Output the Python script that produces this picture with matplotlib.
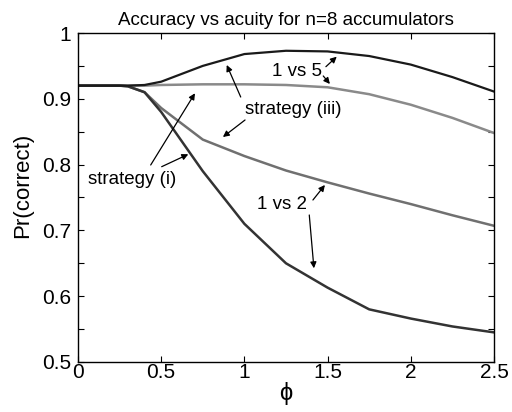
import matplotlib
matplotlib.use("Agg")
import matplotlib.pyplot as plt

plt.rcParams['font.family'] = ['Liberation Sans', 'DejaVu Sans']

phi = [0.0, 0.25, 0.3, 0.4, 0.5, 0.75, 1.0, 1.25, 1.5, 1.75, 2.0, 2.25, 2.5]

# strategy (iii), 1 vs 5
iii_1v5 = [0.920, 0.920, 0.920, 0.921, 0.926, 0.950, 0.968, 0.973, 0.972, 0.965, 0.952, 0.933, 0.911]
# strategy (i), 1 vs 5
i_1v5 = [0.920, 0.920, 0.920, 0.920, 0.921, 0.922, 0.922, 0.921, 0.9175, 0.907, 0.891, 0.871, 0.848]
# strategy (iii), 1 vs 2
iii_1v2 = [0.920, 0.920, 0.919, 0.910, 0.886, 0.838, 0.813, 0.791, 0.773, 0.756, 0.740, 0.723, 0.707]
# strategy (i), 1 vs 2
i_1v2 = [0.920, 0.920, 0.919, 0.910, 0.880, 0.790, 0.710, 0.650, 0.613, 0.580, 0.566, 0.554, 0.545]

xticks = [0, 0.5, 1, 1.5, 2, 2.5]
xticklabels = ['0', '0.5', '1', '1.5', '2', '2.5']
yticks = [0.5, 0.6, 0.7, 0.8, 0.9, 1.0]
yticklabels = ['0.5', '0.6', '0.7', '0.8', '0.9', '1']
yminor = [0.55, 0.65, 0.75, 0.85, 0.95]

fig = plt.figure(figsize=(5.12, 4.12), dpi=100)
ax = fig.add_axes([0.1523, 0.1214, 0.8125, 0.7985])

ax.plot(phi, i_1v5, color='#8a8a8a', lw=1.8)
ax.plot(phi, iii_1v2, color='#707070', lw=1.8)
ax.plot(phi, i_1v2, color='#333333', lw=1.8)
ax.plot(phi, iii_1v5, color='#1a1a1a', lw=1.6)

ax.set_xlim(0, 2.5)
ax.set_ylim(0.5, 1.0)
ax.set_xticks(xticks, xticklabels)
ax.set_yticks(yticks, yticklabels)
ax.set_yticks(yminor, minor=True)
ax.tick_params(which='both', direction='in', top=True, right=True, length=4, width=0.8,
               labelsize=15)
ax.tick_params(axis='x', pad=1)
ax.tick_params(axis='y', pad=5)
for s in ax.spines.values():
    s.set_linewidth(1.0)

ax.set_title('Accuracy vs acuity for n=8 accumulators', fontsize=13.5, pad=6)
ax.set_ylabel('Pr(correct)', fontsize=16)
ax.yaxis.set_label_coords(-0.108, 0.538)
ax.set_xlabel('\u03d5', fontsize=17, labelpad=0)

# labels with pointer arrows
labels = [
    ('1 vs 5', 1.316, 0.9422, [((1.490, 0.9488), (1.555, 0.9640)),
                              ((1.474, 0.9347), (1.514, 0.9225))]),
    ('strategy (iii)', 1.295, 0.884, [((0.978, 0.9027), (0.894, 0.9514)),
                                      ((1.004, 0.8678), (0.871, 0.8419))]),
    ('strategy (i)', 0.323, 0.7777, [((0.437, 0.7994), (0.703, 0.9084)),
                                     ((0.503, 0.7968), (0.663, 0.8157))]),
    ('1 vs 2', 1.229, 0.7386, [((1.412, 0.7462), (1.484, 0.769)),
                              ((1.390, 0.7234), (1.418, 0.6424))]),
]
for text, tx, ty, arrows in labels:
    ax.text(tx, ty, text, fontsize=13.5, ha='center', va='center')
    for start, end in arrows:
        ax.annotate('', xy=end, xytext=start,
                    arrowprops=dict(arrowstyle='-|>', color='black', lw=0.9,
                                    mutation_scale=9, shrinkA=0, shrinkB=0))

fig.savefig('out.png', dpi=100)
